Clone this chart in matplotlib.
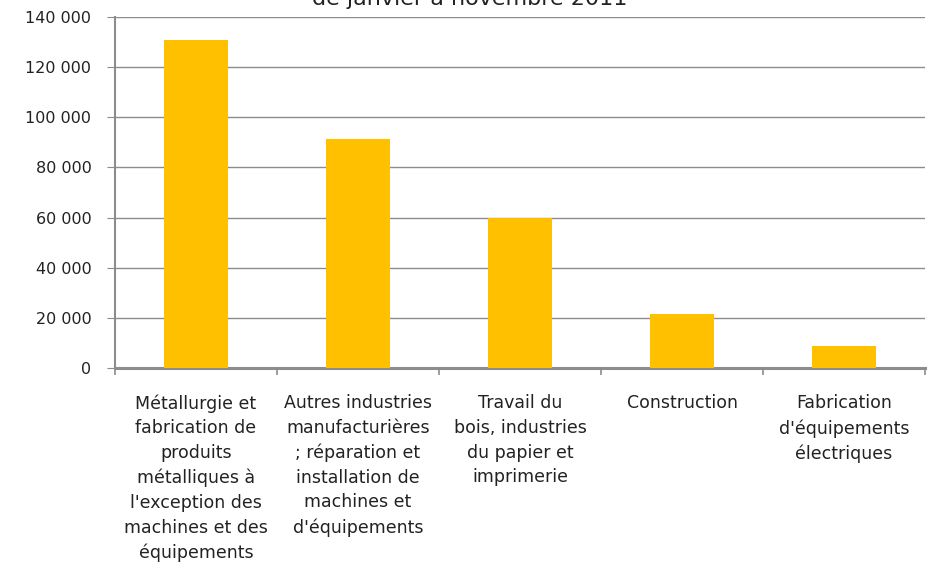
import matplotlib.pyplot as plt
from matplotlib.ticker import FuncFormatter

categories = [
    "Métallurgie et\nfabrication de\nproduits\nmétalliques à\nl'exception des\nmachines et des\néquipements",
    "Autres industries\nmanufacturières\n; réparation et\ninstallation de\nmachines et\nd'équipements",
    "Travail du\nbois, industries\ndu papier et\nimprimerie",
    "Construction",
    "Fabrication\nd'équipements\nélectriques",
]
values = [131000, 91500, 60000, 21400, 8800]
yticks = [0, 20000, 40000, 60000, 80000, 100000, 120000, 140000]

bar_color = "#FFC000"
grid_color = "#8C8C8C"

fig = plt.figure(figsize=(9.34, 5.63), dpi=100)
ax = fig.add_axes([115 / 934, 1 - 368 / 563, 810 / 934, 351 / 563])

x = list(range(len(categories)))
ax.bar(x, values, width=0.4, color=bar_color, zorder=3)

ax.set_xlim(-0.5, len(categories) - 0.5)
ax.set_ylim(0, 140000)
ax.set_yticks(yticks)
ax.yaxis.set_major_formatter(FuncFormatter(lambda v, p: f"{int(v):,}".replace(",", " ")))
ax.grid(axis="y", color=grid_color, linewidth=1, zorder=0)

# category labels centred, ticks between categories
ax.set_xticks([i - 0.5 for i in range(len(categories) + 1)])
ax.set_xticklabels([])
ax.set_xticks(x, minor=True)
ax.set_xticklabels(categories, minor=True, fontsize=12.5, linespacing=1.47,
                   color="#222222", va="top")
ax.tick_params(axis="x", which="minor", length=0, pad=19)
ax.tick_params(axis="x", which="major", length=5, color=grid_color, width=1.2)
ax.tick_params(axis="y", length=6, color=grid_color, labelsize=11.5,
               labelcolor="#222222", pad=11)

for side in ["top", "right"]:
    ax.spines[side].set_visible(False)
ax.spines["left"].set_color(grid_color)
ax.spines["left"].set_linewidth(1.5)
ax.spines["bottom"].set_color(grid_color)
ax.spines["bottom"].set_linewidth(2.2)

fig.text(470 / 934, 1 - 5 / 563, "de janvier à novembre 2011", ha="center",
         va="baseline", fontsize=16, color="#222222")

fig.savefig("out.png", dpi=100)
